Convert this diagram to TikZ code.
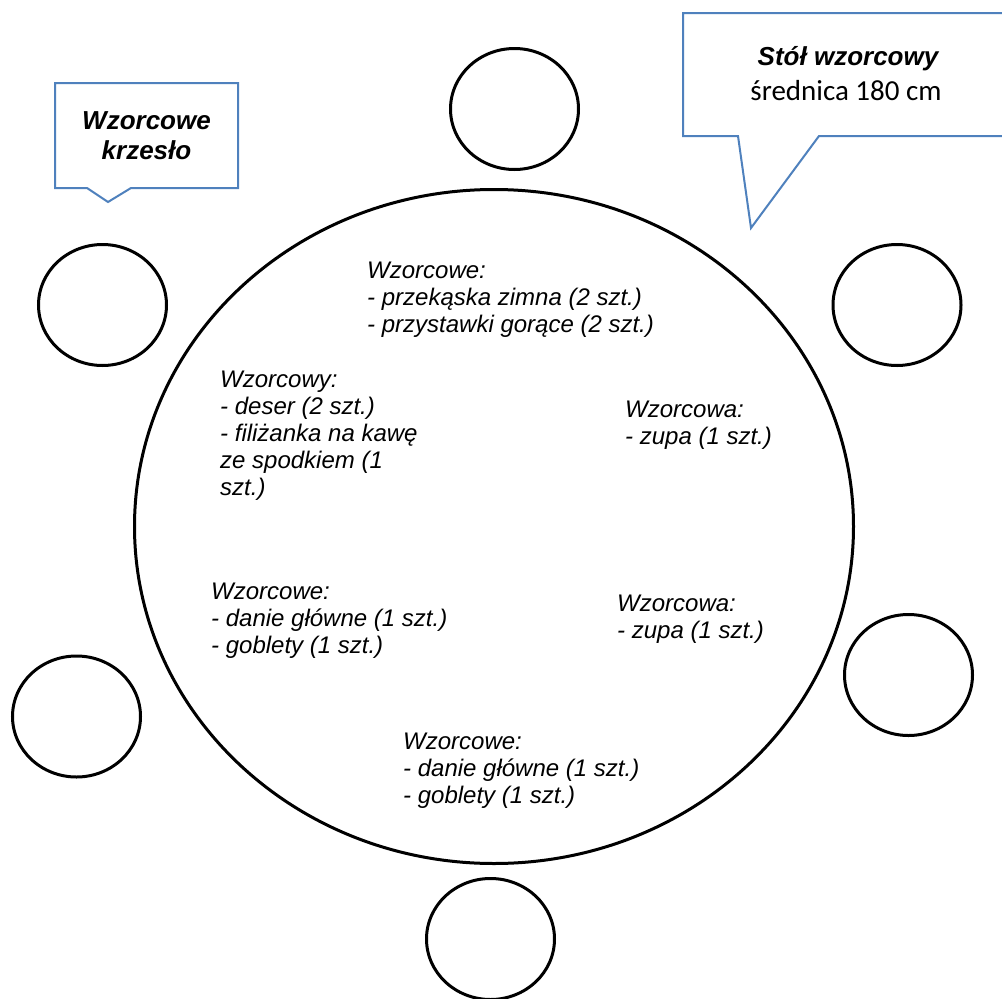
\documentclass[tikz,border=0pt]{standalone}
\usepackage{fontspec}
\usetikzlibrary{shapes.geometric}
\newfontfamily\arialf{Liberation Sans}
\newfontfamily\calibrif{Carlito}
\definecolor{callblue}{HTML}{4F81BD}
\tikzset{
  chair/.style={draw=black, line width=3pt, ellipse, minimum width=128pt, minimum height=121pt, inner sep=0pt},
  tablebox/.style={draw=black, line width=3pt, ellipse, minimum width=719pt, minimum height=674pt, inner sep=0pt},
  menu/.style={anchor=north west, inner sep=0pt, align=left, font=\arialf\itshape\fontsize{24}{27}\selectfont},
  callout/.style={draw=callblue, line width=2pt, fill=white, line join=miter},
  calltext/.style={inner sep=0pt, align=center}
}
\begin{document}
\begin{tikzpicture}[x=1pt,y=-1pt]
\useasboundingbox (0,0) rectangle (1002,999);
\clip (0,0) rectangle (1002,999);
% table and chairs
\node[tablebox] (table) at (494,526.5) {};
\node[chair] (ch1) at (514.5,109) {};
\node[chair] (ch2) at (102.5,305) {};
\node[chair] (ch3) at (897,305) {};
\node[chair] (ch4) at (908.5,675) {};
\node[chair] (ch5) at (76.5,716.5) {};
\node[chair] (ch6) at (490.5,939) {};
% callouts
\draw[callout] (55,83) -- (238,83) -- (238,188) -- (131,188) -- (108,202) -- (87,188) -- (55,188) -- cycle;
\node[calltext, font=\arialf\bfseries\itshape\fontsize{26}{30}\selectfont, anchor=north] (lblchair) at (146.5,111) {Wzorcowe\\krzesło};
\draw[callout] (683,13) -- (1012,13) -- (1012,136) -- (819,136) -- (751,228) -- (738,136) -- (683,136) -- cycle;
\node[calltext, font=\arialf\bfseries\itshape\fontsize{26}{30}\selectfont, anchor=base] (lbltable) at (848,65) {Stół wzorcowy};
\node[calltext, font=\calibrif\fontsize{29}{33}\selectfont, anchor=base] (lbldiam) at (846,100) {średnica 180 cm};
% menu texts
\node[menu] (m1) at (367,262) {Wzorcowe:\\- przekąska zimna (2 szt.)\\- przystawki gorące (2 szt.)};
\node[menu] (m2) at (220,371) {Wzorcowy:\\- deser (2 szt.)\\- filiżanka na kawę\\ze spodkiem (1\\szt.)};
\node[menu] (m3) at (625,401) {Wzorcowa:\\- zupa (1 szt.)};
\node[menu] (m4) at (211,583) {Wzorcowe:\\- danie główne (1 szt.)\\- goblety (1 szt.)};
\node[menu] (m5) at (617,595) {Wzorcowa:\\- zupa (1 szt.)};
\node[menu] (m6) at (403,733) {Wzorcowe:\\- danie główne (1 szt.)\\- goblety (1 szt.)};
\end{tikzpicture}
\end{document}
